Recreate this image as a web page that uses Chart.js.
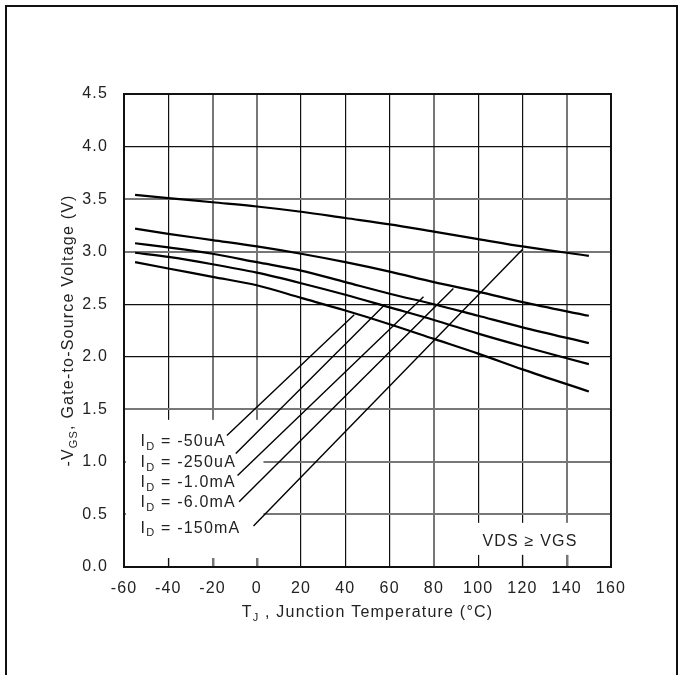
<!DOCTYPE html>
<html>
<head>
<meta charset="utf-8">
<script src="https://cdn.jsdelivr.net/npm/chart.js@4.4.0/dist/chart.umd.min.js"></script>
<style>
  html, body { margin: 0; padding: 0; background: #fff; }
  #wrap { width: 683px; height: 675px; }
</style>
</head>
<body>
<div id="wrap"><canvas id="myChart" width="683" height="675"></canvas></div>
<script>
// junction temperature points (°C)
const temps = [-55, -40, -20, 0, 20, 40, 60, 80, 100, 120, 150];
// -VGS (V) for each drain current
const vgs50uA = [2.9, 2.84, 2.76, 2.68, 2.56, 2.44, 2.31, 2.17, 2.03, 1.88, 1.67];
const vgs250uA = [2.99, 2.95, 2.88, 2.8, 2.7, 2.59, 2.47, 2.35, 2.22, 2.1, 1.93];
const vgs1mA = [3.08, 3.04, 2.98, 2.9, 2.82, 2.71, 2.6, 2.5, 2.39, 2.28, 2.13];
const vgs6mA = [3.22, 3.17, 3.11, 3.05, 2.98, 2.9, 2.81, 2.71, 2.62, 2.52, 2.39];
const vgs150mA = [3.54, 3.51, 3.47, 3.43, 3.38, 3.32, 3.26, 3.19, 3.12, 3.05, 2.96];

const currentLabels = ["-50uA", "-250uA", "-1.0mA", "-6.0mA", "-150mA"];
// leader lines from label to curve (T, V)
const leaderFromT = [-13.5, -9.5, -8.7, -8.0, -1.5];
const leaderFromV = [1.25, 1.08, 0.87, 0.62, 0.39];
const leaderToT = [44, 58, 75.3, 88.8, 120];
const leaderToV = [2.4, 2.5, 2.57, 2.65, 3.02];

const xTickValues = [-60, -40, -20, 0, 20, 40, 60, 80, 100, 120, 140, 160];
const yTickValues = [0, 0.5, 1, 1.5, 2, 2.5, 3, 3.5, 4, 4.5];

// grid shading like the scanned datasheet
const xGridDark = [-40, 20, 40, 60, 100, 120];
const yGridDark = [2.5, 2, 4];

const FONT = "'Liberation Sans', Arial, sans-serif";
const TEXT = "#222";
const SPACING = "1.2px";

const allCurves = [vgs50uA, vgs250uA, vgs1mA, vgs6mA, vgs150mA];

const datasets = allCurves.map((vals) => ({
  data: temps.map((t, i) => ({ x: t, y: vals[i] })),
  borderColor: "#000",
  borderWidth: 2.2,
  pointRadius: 0,
  showLine: true,
  cubicInterpolationMode: "monotone",
}));
currentLabels.forEach((_, i) => {
  datasets.push({
    data: [
      { x: leaderFromT[i], y: leaderFromV[i] },
      { x: leaderToT[i], y: leaderToV[i] },
    ],
    borderColor: "#000",
    borderWidth: 1.4,
    pointRadius: 0,
    showLine: true,
  });
});

function drawRich(c, parts, x, y, align) {
  // parts: [text, isSub]
  const big = "16px " + FONT;
  const small = "11px " + FONT;
  let w = 0;
  parts.forEach((p) => {
    c.font = p[1] ? small : big;
    w += c.measureText(p[0]).width;
  });
  let cx = align === "left" ? x : x - w / 2;
  c.textAlign = "left";
  c.textBaseline = "middle";
  parts.forEach((p) => {
    c.font = p[1] ? small : big;
    c.fillText(p[0], cx, p[1] ? y + 5 : y);
    cx += c.measureText(p[0]).width;
  });
}

const spacingPlugin = {
  id: "spacing",
  beforeUpdate(chart) { chart.ctx.letterSpacing = SPACING; },
  beforeDraw(chart) { chart.ctx.letterSpacing = SPACING; },
};

const overlayPlugin = {
  id: "overlay",
  beforeDatasetsDraw(chart) {
    const c = chart.ctx;
    const xs = chart.scales.x;
    const ys = chart.scales.y;
    const a = chart.chartArea;
    c.save();
    c.fillStyle = "#fff";
    // gaps in the grid behind the labels
    const boxes = [
      [a.left + 2, xs.getPixelForValue(3), ys.getPixelForValue(1.4), ys.getPixelForValue(0.085), -60, 0],
      [xs.getPixelForValue(83), xs.getPixelForValue(158.6), ys.getPixelForValue(0.42), ys.getPixelForValue(0.115), 100, 140],
    ];
    boxes.forEach((b) => {
      c.fillRect(b[0], b[2], b[1] - b[0], b[3] - b[2]);
      xTickValues.forEach((v) => {
        if (v <= b[4] || v > b[5]) return;
        const px = Math.round(xs.getPixelForValue(v)) + 0.5;
        c.beginPath();
        c.strokeStyle = xGridDark.includes(v) ? "#111" : "#777";
        c.lineWidth = xGridDark.includes(v) ? 1.2 : 2;
        c.moveTo(px, b[3]);
        c.lineTo(px, a.bottom);
        c.stroke();
      });
    });
    c.restore();
  },
  afterDatasetsDraw(chart) {
    const c = chart.ctx;
    const xs = chart.scales.x;
    const ys = chart.scales.y;
    const a = chart.chartArea;
    c.save();
    c.letterSpacing = SPACING;
    // plot frame
    c.strokeStyle = "#111";
    c.lineWidth = 2;
    c.strokeRect(a.left, a.top, a.right - a.left, a.bottom - a.top);
    // outer frame (open at the bottom)
    c.beginPath();
    c.moveTo(6, 675);
    c.lineTo(6, 6);
    c.lineTo(677, 6);
    c.lineTo(677, 675);
    c.stroke();

    c.fillStyle = TEXT;
    // current labels
    const labelY = [1.19, 0.99, 0.8, 0.61, 0.37];
    currentLabels.forEach((lab, i) => {
      drawRich(c, [["I", false], ["D", true], [" = " + lab, false]],
        xs.getPixelForValue(-52.5), ys.getPixelForValue(labelY[i]), "left");
    });
    // condition note
    c.font = "16px " + FONT;
    c.textAlign = "center";
    c.textBaseline = "middle";
    c.fillText("VDS \u2265 VGS", xs.getPixelForValue(123.4), ys.getPixelForValue(0.24));

    // x title
    drawRich(c, [["T", false], ["J", true], [" , Junction Temperature (\u00b0C)", false]],
      (a.left + a.right) / 2, 613, "center");
    // y title
    c.translate(69, (a.top + a.bottom) / 2);
    c.rotate(-Math.PI / 2);
    drawRich(c, [["-V", false], ["GS", true], [", Gate-to-Source Voltage (V)", false]], 0, 0, "center");
    c.restore();
  },
};

new Chart(document.getElementById("myChart"), {
  type: "scatter",
  data: { datasets: datasets },
  plugins: [spacingPlugin, overlayPlugin],
  options: {
    responsive: false,
    animation: false,
    devicePixelRatio: 1,
    layout: { padding: { left: 0, top: 94, right: 72, bottom: 0 } },
    plugins: { legend: { display: false }, tooltip: { enabled: false } },
    scales: {
      x: {
        type: "linear",
        min: -60,
        max: 160,
        afterBuildTicks: (s) => { s.ticks = xTickValues.map((v) => ({ value: v })); },
        afterFit: (s) => { s.height = 108; },
        ticks: { color: TEXT, font: { family: FONT, size: 16 }, padding: 12, maxRotation: 0 },
        grid: {
          drawTicks: false,
          color: (ctx) => (xGridDark.includes(ctx.tick.value) ? "#111" : "#777"),
          lineWidth: (ctx) => (xGridDark.includes(ctx.tick.value) ? 1.2 : 2),
        },
        border: { color: "#111", width: 2 },
      },
      y: {
        min: 0,
        max: 4.5,
        afterBuildTicks: (s) => { s.ticks = yTickValues.map((v) => ({ value: v })); },
        afterFit: (s) => { s.width = 124; },
        ticks: { color: TEXT, font: { family: FONT, size: 16 }, padding: 16, callback: (v) => v.toFixed(1) },
        grid: {
          drawTicks: false,
          color: (ctx) => (yGridDark.includes(ctx.tick.value) ? "#111" : "#777"),
          lineWidth: (ctx) => (yGridDark.includes(ctx.tick.value) ? 1.2 : 2),
        },
        border: { color: "#111", width: 2 },
      },
    },
  },
});
</script>
</body>
</html>
